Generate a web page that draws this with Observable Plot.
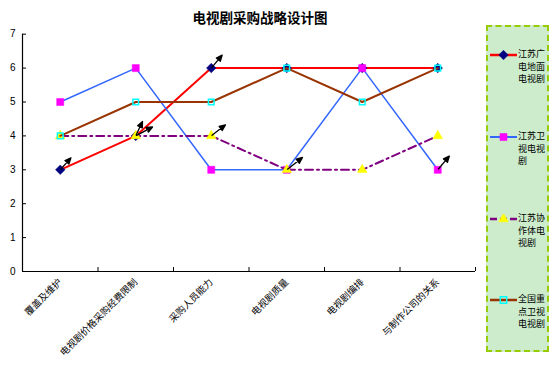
<!DOCTYPE html>
<html><head><meta charset="utf-8">
<script src="https://cdn.jsdelivr.net/npm/d3@7"></script>
<script src="https://cdn.jsdelivr.net/npm/@observablehq/plot@0.6"></script>
<style>
html,body{margin:0;padding:0;background:#fff;}
#wrap{position:relative;width:552px;height:368px;overflow:hidden;font-family:"Noto Sans CJK SC",sans-serif;}
#title{height:27px;line-height:34px;text-align:center;width:520px;font-size:13.5px;font-weight:bold;color:#000;}
#legend{position:absolute;left:486px;top:25px;width:59px;height:323px;background:#CCECCC;border:2px dashed #99CC00;}
.item{position:absolute;left:1px;display:flex;align-items:flex-start;}
.item svg{flex:none;margin-top:2px;}
.item div{width:28px;font-size:9px;line-height:12.5px;color:#000;margin-left:1px;word-break:break-all;}
</style></head>
<body><div id="wrap"><div id="title">电视剧采购战略设计图</div><div id="chart"></div><div id="legend"></div></div>
<script>
const categories = ["覆盖及维护","电视剧价格采购经费限制","采购人员能力","电视剧质量","电视剧编排","与制作公司的关系"];
const seriesNames = ["江苏广电地面电视剧","江苏卫视电视剧","江苏协作体电视剧","全国重点卫视电视剧"];
const dimian  = [3,4,6,6,6,6];
const weishi  = [5,6,3,3,6,3];
const xiezuo  = [4,4,4,3,3,4];
const quanguo = [4,5,5,6,5,6];
const yTicks = [0,1,2,3,4,5,6,7];
// annotation arrows: category index, value, direction (deg), length (px)
const arrowCat   = [0,1,1,2,2,3,5];
const arrowValue = [3,4,4,6,4,3,3];
const arrowAngle = [42,25,62,40,52,52,40];
const arrowLen   = [16,16,19,17,18,20,18];

const styles = [
  {stroke:"#FF0000", width:2, dash:null, symbol:"diamond2", fill:"#000080", mstroke:"#000080", r:4.3},
  {stroke:"#3366FF", width:1.5, dash:null, symbol:"square", fill:"#FF00FF", mstroke:"#FF00FF", r:4},
  {stroke:"#800080", width:2, dash:"8,4,2,4", symbol:"triangle", fill:"#FFFF00", mstroke:"#FFFF00", r:3.6},
  {stroke:"#993300", width:2, dash:null, symbol:"square2", fill:"none", mstroke:"#00FFFF", r:3.6}
];
const allSeries = [dimian, weishi, xiezuo, quanguo];
const tables = allSeries.map((vals, s) => vals.map((v, i) => ({i, v, s: seriesNames[s]})));
const arrows = arrowCat.map((c, k) => ({i: c, v: arrowValue[k], a: arrowAngle[k], l: arrowLen[k]}));

const arrowShape = {
  draw(ctx, l) {
    ctx.moveTo(0, -1); ctx.lineTo(0, -l + 4);
    ctx.moveTo(0, -l); ctx.lineTo(-2.6, -l + 6); ctx.lineTo(2.6, -l + 6); ctx.closePath();
  }
};

const marks = [
  Plot.ruleY([0], {stroke:"#000", strokeWidth:1.2}),
  Plot.ruleX([-0.5], {stroke:"#000", strokeWidth:1.2}),
  Plot.axisY({ticks: yTicks, tickFormat: d => String(d), tickSize: -4, tickPadding: 11, fontSize: 10, fontFamily:"Liberation Sans, Arial, sans-serif", label: null}),
  Plot.axisX({ticks: d3.range(-0.5, 6, 1), tickFormat: () => "", tickSize: -4, label: null}),
  Plot.axisX({ticks: d3.range(categories.length), tickFormat: i => categories[i], tickSize: 0, tickPadding: 9, tickRotate: -45, fontSize: 9.5, label: null})
];
tables.forEach((t, s) => {
  const st = styles[s];
  marks.push(Plot.line(t, {x:"i", y:"v", stroke: st.stroke, strokeWidth: st.width, strokeDasharray: st.dash}));
  marks.push(Plot.dot(t, {x:"i", y:"v", symbol: st.symbol, r: st.r, fill: st.fill, stroke: st.mstroke, strokeWidth: st.fill === "none" ? 1.5 : 0.5}));
});
marks.push(Plot.vector(arrows, {x:"i", y:"v", rotate:"a", length:"l", anchor:"start", shape: arrowShape, stroke:"#000", fill:"#000", strokeWidth:1.3}));

const chart = Plot.plot({
  width: 552, height: 341,
  marginLeft: 22, marginRight: 77, marginTop: 6.7, marginBottom: 97,
  x: {type: "linear", domain: [-0.5, 5.5]},
  y: {domain: [0, 7]},
  length: {type: "identity"},
  style: {fontFamily: "Noto Sans CJK SC, sans-serif", background: "white", color: "#000"},
  marks
});
document.getElementById("chart").appendChild(chart);

// legend
const legend = document.getElementById("legend");
const tops = [21, 103, 185, 266];
seriesNames.forEach((name, s) => {
  const st = styles[s];
  const item = document.createElement("div");
  item.className = "item";
  item.style.top = tops[s] + "px";
  const symType = st.symbol === "diamond2" ? d3.symbolDiamond2 : st.symbol === "triangle" ? d3.symbolTriangle : d3.symbolSquare;
  const sym = d3.symbol(symType, st.r * st.r * Math.PI)();
  const dash = s === 2 ? 'stroke-dasharray="7,3"' : '';
  item.innerHTML = `<svg width="28" height="10"><line x1="1" x2="28" y1="5" y2="5" stroke="${st.stroke}" stroke-width="${st.width + 0.5}" ${dash}/><path d="${sym}" transform="translate(14.5,5)" fill="${st.fill}" stroke="${st.mstroke}" stroke-width="${st.fill === 'none' ? 1.5 : 0.5}"/></svg><div>${name}</div>`;
  legend.appendChild(item);
});
</script></body></html>
